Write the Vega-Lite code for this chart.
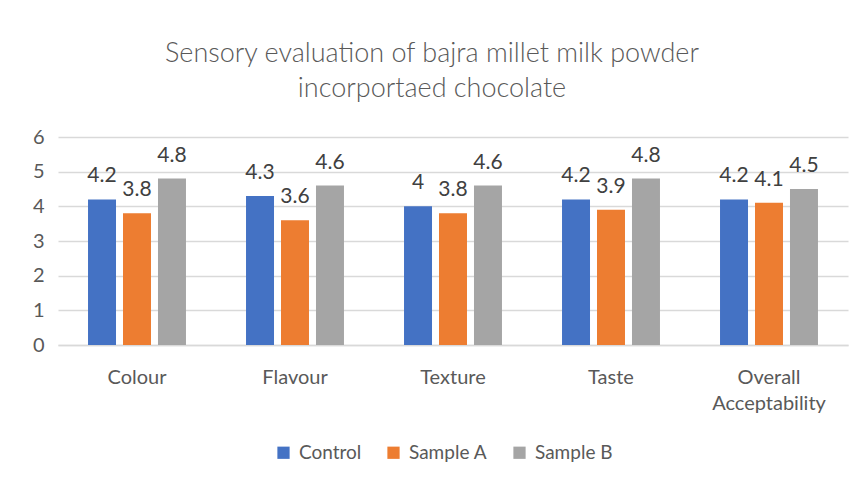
{
  "$schema": "https://vega.github.io/schema/vega-lite/v6.json",
  "width": 790,
  "height": 208,
  "autosize": "none",
  "padding": {"left": 58, "top": 137, "right": 16, "bottom": 135},
  "background": "white",
  "title": {
    "text": ["Sensory evaluation of bajra millet milk powder", "incorportaed chocolate"],
    "anchor": "middle",
    "fontSize": 27,
    "font": "Lato",
    "fontWeight": 300,
    "color": "#595959",
    "lineHeight": 35,
    "offset": 24,
    "dx": -21
  },
  "data": {
    "values": [
      {"attribute": "Colour", "sample": "Control", "score": 4.2},
      {"attribute": "Colour", "sample": "Sample A", "score": 3.8},
      {"attribute": "Colour", "sample": "Sample B", "score": 4.8},
      {"attribute": "Flavour", "sample": "Control", "score": 4.3},
      {"attribute": "Flavour", "sample": "Sample A", "score": 3.6},
      {"attribute": "Flavour", "sample": "Sample B", "score": 4.6},
      {"attribute": "Texture", "sample": "Control", "score": 4},
      {"attribute": "Texture", "sample": "Sample A", "score": 3.8},
      {"attribute": "Texture", "sample": "Sample B", "score": 4.6},
      {"attribute": "Taste", "sample": "Control", "score": 4.2},
      {"attribute": "Taste", "sample": "Sample A", "score": 3.9},
      {"attribute": "Taste", "sample": "Sample B", "score": 4.8},
      {"attribute": "Overall Acceptability", "sample": "Control", "score": 4.2},
      {"attribute": "Overall Acceptability", "sample": "Sample A", "score": 4.1},
      {"attribute": "Overall Acceptability", "sample": "Sample B", "score": 4.5}
    ]
  },
  "encoding": {
    "x": {
      "field": "attribute",
      "type": "nominal",
      "sort": null,
      "scale": {"paddingInner": 0.38, "paddingOuter": 0.19},
      "axis": {
        "title": null,
        "labelAngle": 0,
        "labelFontSize": 20,
        "labelFont": "Lato",
        "labelColor": "#595959",
        "labelPadding": 32,
        "labelLineHeight": 26,
        "labelBaseline": "middle",
        "ticks": false,
        "domainColor": "#d9d9d9",
        "domainWidth": 1.5,
        "labelExpr": "datum.value == 'Overall Acceptability' ? ['Overall', 'Acceptability'] : datum.value"
      }
    },
    "xOffset": {
      "field": "sample",
      "type": "nominal",
      "scale": {"paddingInner": 0.2, "paddingOuter": 0}
    },
    "y": {
      "field": "score",
      "type": "quantitative",
      "scale": {"domain": [0, 6], "nice": false},
      "axis": {
        "title": null,
        "values": [0, 1, 2, 3, 4, 5, 6],
        "labelOverlap": false,
        "labelFontSize": 20,
        "labelFont": "Lato",
        "labelColor": "#595959",
        "labelPadding": 14,
        "ticks": false,
        "domain": false,
        "gridColor": "#d9d9d9",
        "gridWidth": 1.5
      }
    },
    "color": {
      "field": "sample",
      "type": "nominal",
      "scale": {"domain": ["Control", "Sample A", "Sample B"], "range": ["#4472C4", "#ED7D31", "#A5A5A5"]},
      "legend": {
        "title": null,
        "orient": "none",
        "legendX": 216,
        "legendY": 306,
        "direction": "horizontal",
        "symbolType": "square",
        "symbolSize": 150,
        "symbolStrokeWidth": 0,
        "labelFontSize": 19,
        "labelFont": "Lato",
        "labelColor": "#595959",
        "columnPadding": 22,
        "labelOffset": 6
      }
    }
  },
  "layer": [
    {"mark": {"type": "bar"}},
    {
      "mark": {"type": "text", "dy": -23, "fontSize": 21, "font": "Lato", "color": "#404040"},
      "encoding": {"text": {"field": "score", "type": "quantitative"}, "color": {"value": "#404040"}}
    }
  ],
  "config": {"view": {"stroke": null}}
}
